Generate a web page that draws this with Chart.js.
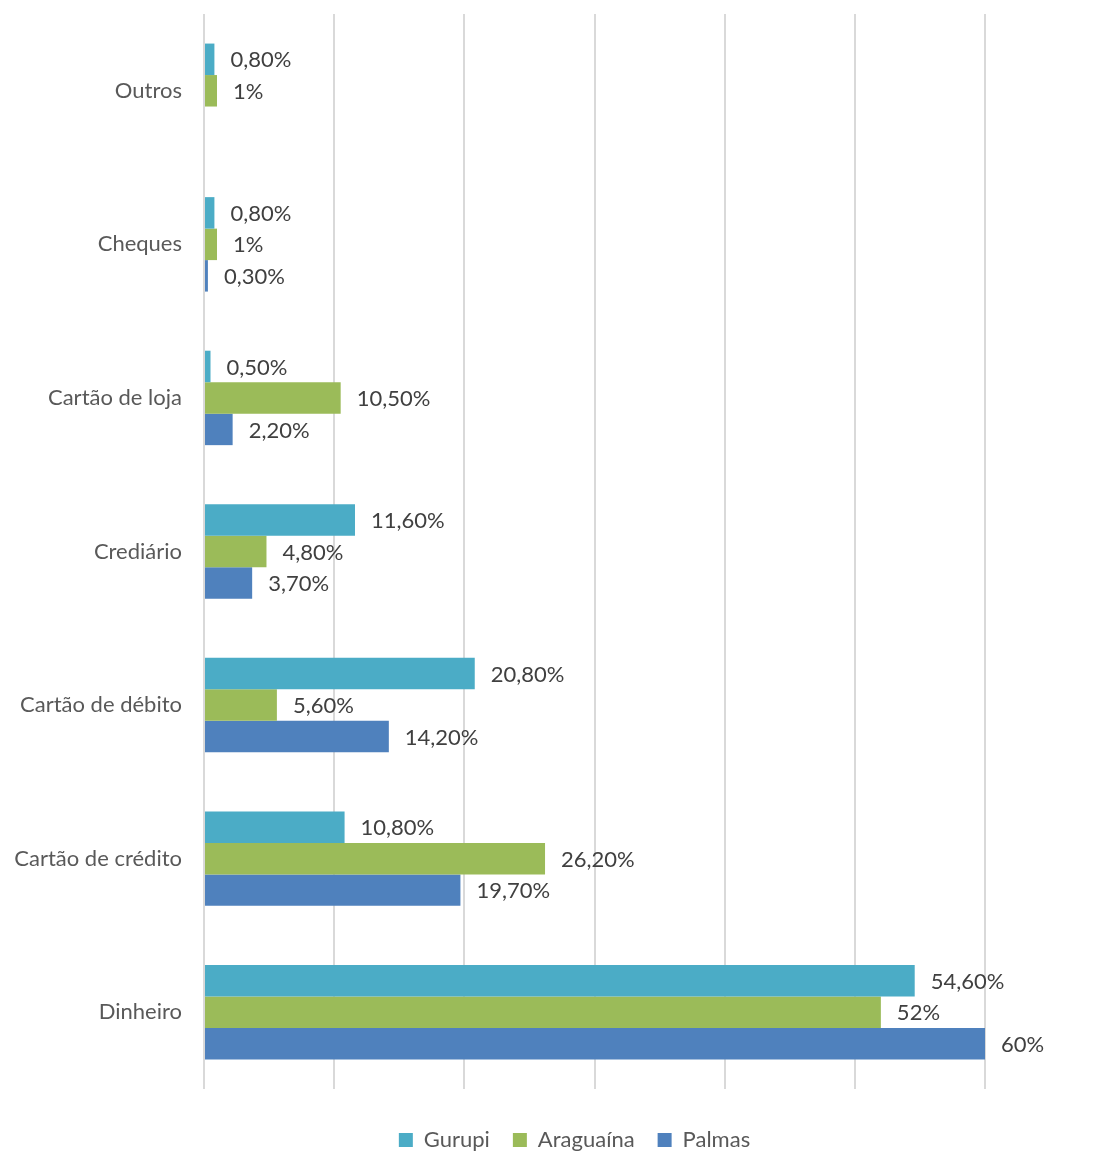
<!DOCTYPE html>
<html lang="pt">
<head>
  <meta charset="UTF-8">
  <title>Formas de pagamento</title>
  <script src="https://cdn.jsdelivr.net/npm/chart.js"></script>
  <style>
    html, body { margin: 0; padding: 0; background: #fff; }
    #wrap { width: 1104px; height: 1153px; }
  </style>
</head>
<body>
  <div id="wrap"><canvas id="chart"></canvas></div>

  <script>
    const categories = ["Outros", "Cheques", "Cartão de loja", "Crediário", "Cartão de débito", "Cartão de crédito", "Dinheiro"];
    const gurupi    = [0.8, 0.8, 0.5, 11.6, 20.8, 10.8, 54.6];
    const araguaina = [1, 1, 10.5, 4.8, 5.6, 26.2, 52];
    const palmas    = [null, 0.3, 2.2, 3.7, 14.2, 19.7, 60];

    const fmt = v => Number.isInteger(v) ? v + "%" : v.toFixed(2).replace(".", ",") + "%";

    // value labels to the right of each bar
    const barLabels = {
      id: "barLabels",
      afterDatasetsDraw(chart) {
        const ctx = chart.ctx;
        ctx.save();
        ctx.font = "22px Lato";
        ctx.fillStyle = "#404040";
        ctx.textAlign = "left";
        ctx.textBaseline = "middle";
        chart.data.datasets.forEach((ds, i) => {
          chart.getDatasetMeta(i).data.forEach((bar, j) => {
            const v = ds.data[j];
            if (v == null) return;
            ctx.fillText(fmt(v), bar.x + 16, bar.y + 1);
          });
        });
        ctx.restore();
      }
    };

    // legend sits a bit right of the padded centre in the original
    const shiftLegend = {
      id: "shiftLegend",
      afterLayout(chart) {
        chart.legend.left += 82;
        chart.legend.right += 82;
      }
    };

    Chart.defaults.font.family = "Lato";
    Chart.defaults.font.size = 22;
    Chart.defaults.color = "#595959";

    new Chart(document.getElementById("chart"), {
      type: "bar",
      data: {
        labels: categories,
        datasets: [
          { label: "Gurupi", data: gurupi, backgroundColor: "#4BACC6" },
          { label: "Araguaína", data: araguaina, backgroundColor: "#9BBB59" },
          { label: "Palmas", data: palmas, backgroundColor: "#4F81BD" }
        ]
      },
      options: {
        indexAxis: "y",
        responsive: true,
        maintainAspectRatio: false,
        animation: false,
        barPercentage: 1,
        categoryPercentage: 0.615,
        layout: { padding: { top: 14, right: 119, left: 0, bottom: -8 } },
        plugins: {
          legend: {
            position: "bottom",
            labels: { boxWidth: 14, boxHeight: 14, padding: 23, color: "#595959", font: { size: 22 } }
          },
          tooltip: { enabled: false }
        },
        scales: {
          x: {
            min: 0, max: 60,
            ticks: { display: false, stepSize: 10 },
            grid: { color: "#d9d9d9", lineWidth: 2, drawTicks: false },
            border: { display: false },
            afterFit(scale) { scale.height = 17; }
          },
          y: {
            ticks: { padding: 22, color: "#595959", font: { size: 22 } },
            grid: { display: false, drawTicks: false },
            border: { display: false },
            afterFit(scale) {
              scale.width = 204;
              scale.paddingTop = 0;
              scale.paddingBottom = 0;
            }
          }
        }
      },
      plugins: [barLabels, shiftLegend]
    });
  </script>
</body>
</html>
